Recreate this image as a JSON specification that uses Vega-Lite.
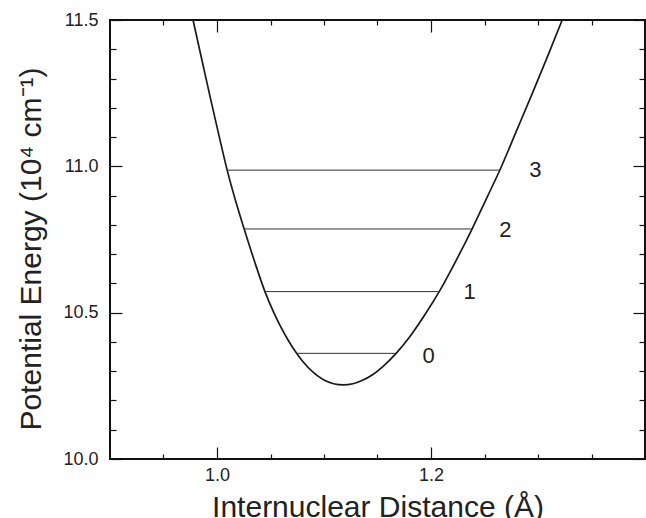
{
  "$schema": "https://vega.github.io/schema/vega-lite/v6.json",
  "width": 535,
  "height": 439,
  "autosize": "none",
  "padding": {"left": 110, "top": 20, "right": 1, "bottom": 59},
  "background": "white",
  "config": {
    "view": {"stroke": "#111", "strokeWidth": 2},
    "font": "Liberation Sans",
    "axis": {
      "domain": false,
      "grid": false,
      "tickColor": "#111",
      "tickWidth": 1.2,
      "labelFont": "Liberation Sans",
      "labelFontSize": 18,
      "labelColor": "#222",
      "titleFont": "Liberation Sans",
      "titleFontSize": 30,
      "titleFontWeight": "normal",
      "titleColor": "#222"
    }
  },
  "datasets": {
    "curve": [
      {"r": 0.9776, "E": 11.5},
      {"r": 0.9861, "E": 11.36},
      {"r": 0.9942, "E": 11.227},
      {"r": 1.0022, "E": 11.1},
      {"r": 1.0095, "E": 10.987},
      {"r": 1.0177, "E": 10.878},
      {"r": 1.0254, "E": 10.786},
      {"r": 1.0352, "E": 10.674},
      {"r": 1.0448, "E": 10.572},
      {"r": 1.053, "E": 10.501},
      {"r": 1.0595, "E": 10.452},
      {"r": 1.0668, "E": 10.404},
      {"r": 1.0744, "E": 10.361},
      {"r": 1.08, "E": 10.334},
      {"r": 1.09, "E": 10.296},
      {"r": 1.1, "E": 10.27},
      {"r": 1.109, "E": 10.257},
      {"r": 1.118, "E": 10.253},
      {"r": 1.127, "E": 10.257},
      {"r": 1.136, "E": 10.269},
      {"r": 1.145, "E": 10.287},
      {"r": 1.155, "E": 10.316},
      {"r": 1.1674, "E": 10.361},
      {"r": 1.18, "E": 10.417},
      {"r": 1.195, "E": 10.497},
      {"r": 1.2085, "E": 10.577},
      {"r": 1.225, "E": 10.689},
      {"r": 1.2388, "E": 10.789},
      {"r": 1.2525, "E": 10.895},
      {"r": 1.2647, "E": 10.99},
      {"r": 1.28, "E": 11.122},
      {"r": 1.295, "E": 11.252},
      {"r": 1.31, "E": 11.385},
      {"r": 1.3226, "E": 11.5}
    ],
    "levels": [
      {"v": "0", "r1": 1.0744, "r2": 1.1674, "E": 10.361, "lr": 1.1977, "lE": 10.352},
      {"v": "1", "r1": 1.0448, "r2": 1.2077, "E": 10.572, "lr": 1.2361, "lE": 10.572},
      {"v": "2", "r1": 1.0254, "r2": 1.2385, "E": 10.786, "lr": 1.2695, "lE": 10.782},
      {"v": "3", "r1": 1.0095, "r2": 1.2643, "E": 10.987, "lr": 1.2976, "lE": 10.9885}
    ]
  },
  "resolve": {"axis": {"x": "independent", "y": "independent"}},
  "layer": [
    {
      "data": {"name": "curve"},
      "mark": {"type": "line", "interpolate": "monotone", "color": "#1a1a1a", "strokeWidth": 1.7, "clip": true},
      "encoding": {
        "x": {
          "field": "r", "type": "quantitative",
          "scale": {"domain": [0.9, 1.4], "nice": false, "zero": false},
          "axis": {
            "orient": "bottom",
            "values": [0.95, 1.0, 1.05, 1.1, 1.15, 1.2, 1.25, 1.3, 1.35],
            "labelExpr": "(datum.value == 1 || datum.value == 1.2) ? format(datum.value, '.1f') : ''",
            "tickSize": {"condition": {"test": "datum.value == 1 || datum.value == 1.2", "value": -12}, "value": -5},
            "labelPadding": 19,
            "labelFlush": false,
            "title": "Internuclear Distance (Å)",
            "titlePadding": 8
          }
        },
        "y": {
          "field": "E", "type": "quantitative",
          "scale": {"domain": [10.0, 11.5], "nice": false, "zero": false},
          "axis": {
            "orient": "left",
            "values": [10.0, 10.1, 10.2, 10.3, 10.4, 10.5, 10.6, 10.7, 10.8, 10.9, 11.0, 11.1, 11.2, 11.3, 11.4, 11.5],
            "labelExpr": "(datum.value == 10 || datum.value == 10.5 || datum.value == 11 || datum.value == 11.5) ? format(datum.value, '.1f') : ''",
            "tickSize": {"condition": {"test": "datum.value == 10 || datum.value == 10.5 || datum.value == 11 || datum.value == 11.5", "value": -12}, "value": -6},
            "labelPadding": 24,
            "labelFlush": false,
            "title": "Potential Energy (10⁴ cm⁻¹)",
            "titlePadding": 16,
            "titleY": 228.5
          }
        }
      }
    },
    {
      "data": {"name": "levels"},
      "mark": {"type": "rule", "color": "#333", "strokeWidth": 1},
      "encoding": {
        "x": {
          "field": "r1", "type": "quantitative",
          "axis": {
            "orient": "top",
            "values": [0.95, 1.0, 1.05, 1.1, 1.15, 1.2, 1.25, 1.3, 1.35],
            "labels": false,
            "title": null,
            "tickSize": {"condition": {"test": "datum.value == 1 || datum.value == 1.2", "value": -12}, "value": -5}
          }
        },
        "x2": {"field": "r2"},
        "y": {
          "field": "E", "type": "quantitative",
          "axis": {
            "orient": "right",
            "values": [10.0, 10.1, 10.2, 10.3, 10.4, 10.5, 10.6, 10.7, 10.8, 10.9, 11.0, 11.1, 11.2, 11.3, 11.4, 11.5],
            "labels": false,
            "title": null,
            "tickSize": {"condition": {"test": "datum.value == 10 || datum.value == 10.5 || datum.value == 11 || datum.value == 11.5", "value": -12}, "value": -6}
          }
        }
      }
    },
    {
      "data": {"name": "levels"},
      "mark": {"type": "text", "fontSize": 22, "font": "Liberation Sans", "color": "#222", "align": "center", "baseline": "middle"},
      "encoding": {
        "x": {"field": "lr", "type": "quantitative", "axis": null},
        "y": {"field": "lE", "type": "quantitative", "axis": null},
        "text": {"field": "v"}
      }
    }
  ]
}
